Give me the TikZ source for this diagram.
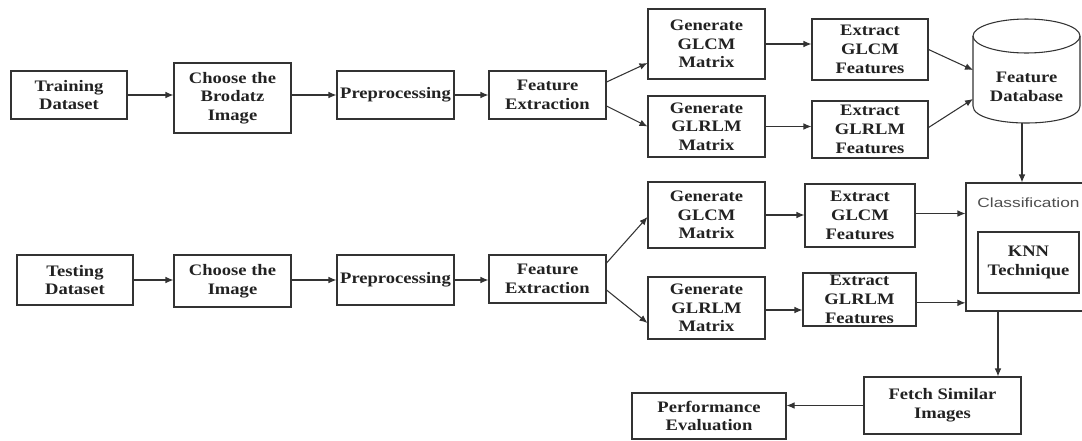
\documentclass[tikz,border=0pt]{standalone}
\usepackage{fontspec}
\setmainfont{Liberation Serif}[FakeStretch=1.16]
\newfontfamily\clsfont{Liberation Sans}[FakeStretch=1.3]
\usetikzlibrary{arrows.meta,calc}
\definecolor{lc}{HTML}{333333}
\definecolor{tx}{HTML}{222222}
\definecolor{cg}{HTML}{4D4D4D}
\begin{document}
\begin{tikzpicture}[x=0.75pt,y=-0.75pt,
  box/.style={draw=lc, line width=0.8pt, align=center, inner sep=0pt, text=tx,
    font=\fontsize{12}{14}\selectfont\bfseries},
  wh/.style 2 args={minimum width=#1*0.75pt, minimum height=#2*0.75pt},
  arr/.style={draw=lc, line width=0.8pt, -{Latex[length=6pt,width=5pt]}},
  plain/.style={draw=lc, line width=0.8pt}]
\useasboundingbox (0,0) rectangle (1082,440);

% ---- Row 1 ----
\node[box, wh={116}{48}] (train) at (69,95) {Training\\Dataset};
\node[box, wh={117}{70}] (chb) at (232.5,98) {Choose the\\Brodatz\\Image};
\node[box, wh={117}{48}] (pre1) at (395.5,95) {Preprocessing};
\node[box, wh={117}{48}] (fe1) at (547.5,95) {Feature\\Extraction};
\node[box, wh={117}{70}] (gc1) at (706.5,44) {Generate\\GLCM\\Matrix};
\node[box, wh={117}{61}] (gr1) at (706.5,126.5) {Generate\\GLRLM\\Matrix};
\node[box, wh={116}{61}] (ec1) at (870,49.5) {Extract\\GLCM\\Features};
\node[box, wh={116}{57}] (er1) at (870,129.5) {Extract\\GLRLM\\Features};

% database cylinder
\draw[plain] (973,36) -- (973,106) .. controls (973,128.67) and (1080,128.67) .. (1080,106) -- (1080,36);
\draw[plain] (1026.5,36) ellipse [x radius=40.125pt, y radius=12.75pt];
\node[align=center, text=tx, font=\fontsize{12}{14}\selectfont\bfseries] (db) at (1026.5,87) {Feature\\Database};
\coordinate (dbin1) at (973,70);
\coordinate (dbin2) at (973,99);
\coordinate (dbbot) at (1022,123);

% ---- Row 2 ----
\node[box, wh={116}{50}] (test) at (75,280) {Testing\\Dataset};
\node[box, wh={117}{52}] (chi) at (232.5,281) {Choose the\\Image};
\node[box, wh={117}{50}] (pre2) at (395.5,280) {Preprocessing};
\node[box, wh={117}{48}] (fe2) at (547.5,279) {Feature\\Extraction};
\node[box, wh={117}{66}] (gc2) at (706.5,215) {Generate\\GLCM\\Matrix};
\node[box, wh={117}{62}] (gr2) at (706.5,308) {Generate\\GLRLM\\Matrix};
\node[box, wh={110}{63}] (ec2) at (860,215.5) {Extract\\GLCM\\Features};
\node[box, wh={113}{53}] (er2) at (859.5,299.5) {Extract\\GLRLM\\Features};

\node[draw=lc, line width=0.8pt, wh={124}{128}] (cls) at (1028,247) {};
\node[font=\clsfont\fontsize{10}{12}\selectfont, text=cg] (clsl) at (1028.5,203) {Classification};
\node[box, wh={101}{61}] (knn) at (1028.5,262.5) {KNN\\Technique};
\coordinate (clsb) at (998,311);

\node[box, wh={157}{57}] (fetch) at (942.5,405.5) {Fetch Similar\\Images};
\node[box, wh={154}{46}] (perf) at (709,416) {Performance\\Evaluation};

% ---- Arrows row 1 ----
\draw[arr] (train.east) -- (train.east -| chb.west);
\draw[arr] (chb.east |- pre1.east) -- (pre1.west);
\draw[arr] (pre1.east) -- (fe1.west);
\draw[arr] ([yshift=9.75pt]fe1.east) -- ([yshift=-14.25pt]gc1.west);
\draw[arr] ([yshift=-8.25pt]fe1.east) -- (gr1.west);
\draw[arr] (gc1.east) -- (gc1.east -| ec1.west);
\draw[arr] (gr1.east) -- (gr1.east -| er1.west);
\draw[arr] (ec1.east) -- (dbin1);
\draw[arr] ([yshift=1.5pt]er1.east) -- (dbin2);
\draw[arr] (dbbot) -- (dbbot |- cls.north);

% ---- Arrows row 2 ----
\draw[arr] (test.east) -- (test.east -| chi.west);
\draw[arr] (chi.east |- pre2.east) -- (pre2.west);
\draw[arr] (pre2.east) -- (pre2.east -| fe2.west);
\draw[arr] ([yshift=12pt]fe2.east) -- ([yshift=-1.5pt]gc2.west);
\draw[arr] ([yshift=-8.25pt]fe2.east) -- ([yshift=-11.25pt]gr2.west);
\draw[arr] (gc2.east) -- (gc2.east -| ec2.west);
\draw[arr] ([yshift=-1.5pt]gr2.east) -- ([yshift=-1.5pt]gr2.east -| er2.west);
\draw[arr] ([yshift=1.5pt]ec2.east) -- ([yshift=1.5pt]ec2.east -| cls.west);
\draw[arr] ([yshift=-2.5pt]er2.east) -- ([yshift=-2.5pt]er2.east -| cls.west);
\draw[arr] (clsb) -- (clsb |- fetch.north);
\draw[arr] (fetch.west) -- (fetch.west -| perf.east);
\end{tikzpicture}
\end{document}
